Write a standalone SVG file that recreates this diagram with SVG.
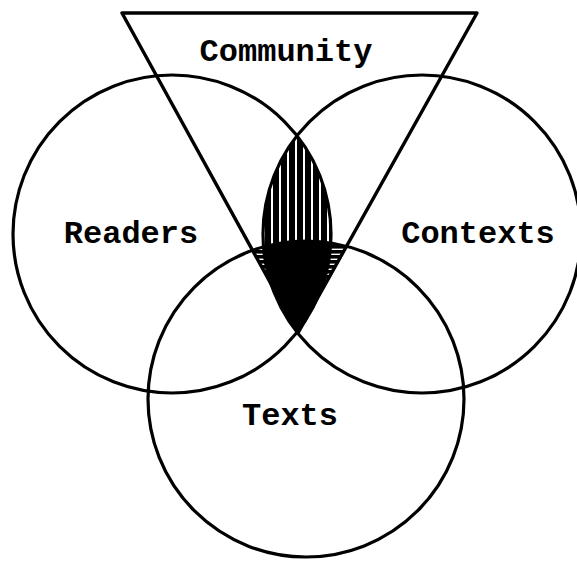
<svg xmlns="http://www.w3.org/2000/svg" width="577" height="562" viewBox="0 0 577 562">
<style>
.outline{fill:none;stroke:#000;stroke-width:3.2}
.tri{fill:none;stroke:#000;stroke-width:3.4;stroke-linejoin:round}
.lbl{font-family:"Liberation Mono","Courier New",monospace;font-weight:bold;font-size:32px;fill:#000;text-anchor:middle}
</style>
<defs>
<clipPath id="cR"><circle cx="172" cy="234" r="159"/></clipPath>
<clipPath id="cC"><circle cx="422" cy="234" r="159"/></clipPath>
<clipPath id="cT"><circle cx="306" cy="399" r="158"/></clipPath>
<clipPath id="cTri"><polygon points="122,13 477,13 298,333"/></clipPath>
<pattern id="vhatch" patternUnits="userSpaceOnUse" x="1" y="0" width="8" height="10">
<rect width="8" height="10" fill="#fff"/>
<rect x="0" y="0" width="6" height="10" fill="#000"/>
</pattern>
<pattern id="hhatch" patternUnits="userSpaceOnUse" x="0" y="0" width="10" height="5">
<rect width="10" height="5" fill="#fff"/>
<rect x="0" y="0" width="10" height="3.6" fill="#000"/>
</pattern>
</defs>
<rect width="577" height="562" fill="#fff"/>
<g id="shading">
<g clip-path="url(#cR)"><g clip-path="url(#cC)"><rect x="240" y="120" width="120" height="230" fill="url(#vhatch)"/></g></g>
<g clip-path="url(#cT)"><g clip-path="url(#cTri)">
<rect x="230" y="230" width="140" height="120" fill="url(#hhatch)"/>
<g clip-path="url(#cR)"><g clip-path="url(#cC)"><rect x="230" y="230" width="140" height="120" fill="#000"/></g></g>
</g></g>
</g>
<g id="community"><polygon class="tri" points="122,13 477,13 298,333"/><text class="lbl" x="286" y="61">Community</text></g>
<g id="readers"><circle class="outline" cx="172" cy="234" r="159"/><text class="lbl" x="131" y="243">Readers</text></g>
<g id="contexts"><circle class="outline" cx="422" cy="234" r="159"/><text class="lbl" x="478" y="243">Contexts</text></g>
<g id="texts"><circle class="outline" cx="306" cy="399" r="158"/><text class="lbl" x="290" y="425">Texts</text></g>
<g id="connectors"></g>
</svg>
